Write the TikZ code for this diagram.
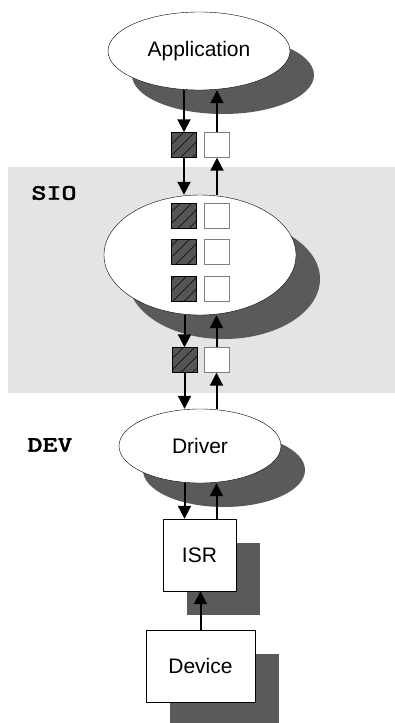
\documentclass[tikz,border=0pt]{standalone}
\usepackage{fontspec}
\setmainfont{Liberation Sans}
\newfontfamily\codefont{lmmonolt10-bold}[Extension=.otf, FakeStretch=1.3, FakeBold=1.5]
\usetikzlibrary{shapes.geometric,shadows,arrows.meta,patterns.meta}
\definecolor{shadowgray}{HTML}{5A5A5A}
\definecolor{layergray}{HTML}{E4E4E4}
\definecolor{hatchgray}{HTML}{555555}
\definecolor{edgegray}{HTML}{808080}

\begin{document}
\begin{tikzpicture}[
	x=1pt, y=-1pt,
	font=\fontsize{21}{25}\selectfont,
	shadowed/.style={ draw, thin, fill=white, drop shadow={shadow xshift=24pt, shadow yshift=-24pt, fill=shadowgray, opacity=1} },
	module/.style={ shadowed, ellipse, inner sep=0pt },
	hwbox/.style={ shadowed, rectangle, inner sep=0pt },
	qframe/.style={ rectangle, draw, inner sep=0pt, minimum size=25pt },
	qfull/.style={ qframe, thin, preaction={fill=hatchgray}, pattern={Lines[angle=45,distance=8pt,line width=0.5pt]} },
	qempty/.style={ qframe, thin, draw=edgegray, fill=white },
	layer/.style={ font=\codefont\fontsize{22}{26}\selectfont },
	flow/.style={ line width=2pt, -{Triangle[length=13pt,width=13pt]} },
]
\useasboundingbox (0,0) rectangle (395,723);

\fill[layergray] (8,167) rectangle (395,393);

\node at (199,51) (app) [module, minimum width=182pt, minimum height=78pt] {Application};
\node at (184,145) (inA) [qfull] {};
\node at (217,145) (outA) [qempty] {};

\node at (54,193) (sio) [layer] {SIO};
\node at (200,255) (buf) [module, minimum width=192pt, minimum height=120pt] {};
\foreach \i/\y in {1/216,2/252,3/289} {
	\node at (184,\y) (in\i) [qfull] {};
	\node at (217,\y) (out\i) [qempty] {};
}
\node at (184.5,360) (inB) [qfull] {};
\node at (216.5,360) (outB) [qempty] {};

\node at (50,445) (dev) [layer] {DEV};
\node at (200,446) (drv) [module, minimum width=162pt, minimum height=74pt] {Driver};
\node at (199.5,555) (isr) [hwbox, minimum width=73pt, minimum height=72pt] {ISR};
\node at (200.5,666) (device) [hwbox, minimum width=109pt, minimum height=72pt] {Device};

\draw[flow] (inA.north |- app.south) -- (inA);
\draw[flow] (outA) -- (outA.north |- app.south);
\draw[flow] (inA) -- (inA.south |- buf.north);
\draw[flow] (outA.south |- buf.north) -- (outA);

\draw[flow] (inB.north |- buf.south) -- (inB);
\draw[flow] (outB) -- (outB.north |- buf.south);
\draw[flow] (inB) -- (inB.south |- drv.north);
\draw[flow] (outB.south |- drv.north) -- (outB);

\draw[flow] (inB.south |- drv.south) -- (inB.south |- isr.north);
\draw[flow] (outB.south |- isr.north) -- (outB.south |- drv.south);
\draw[flow] (device.north) -- (device.north |- isr.south);

\end{tikzpicture}
\end{document}
